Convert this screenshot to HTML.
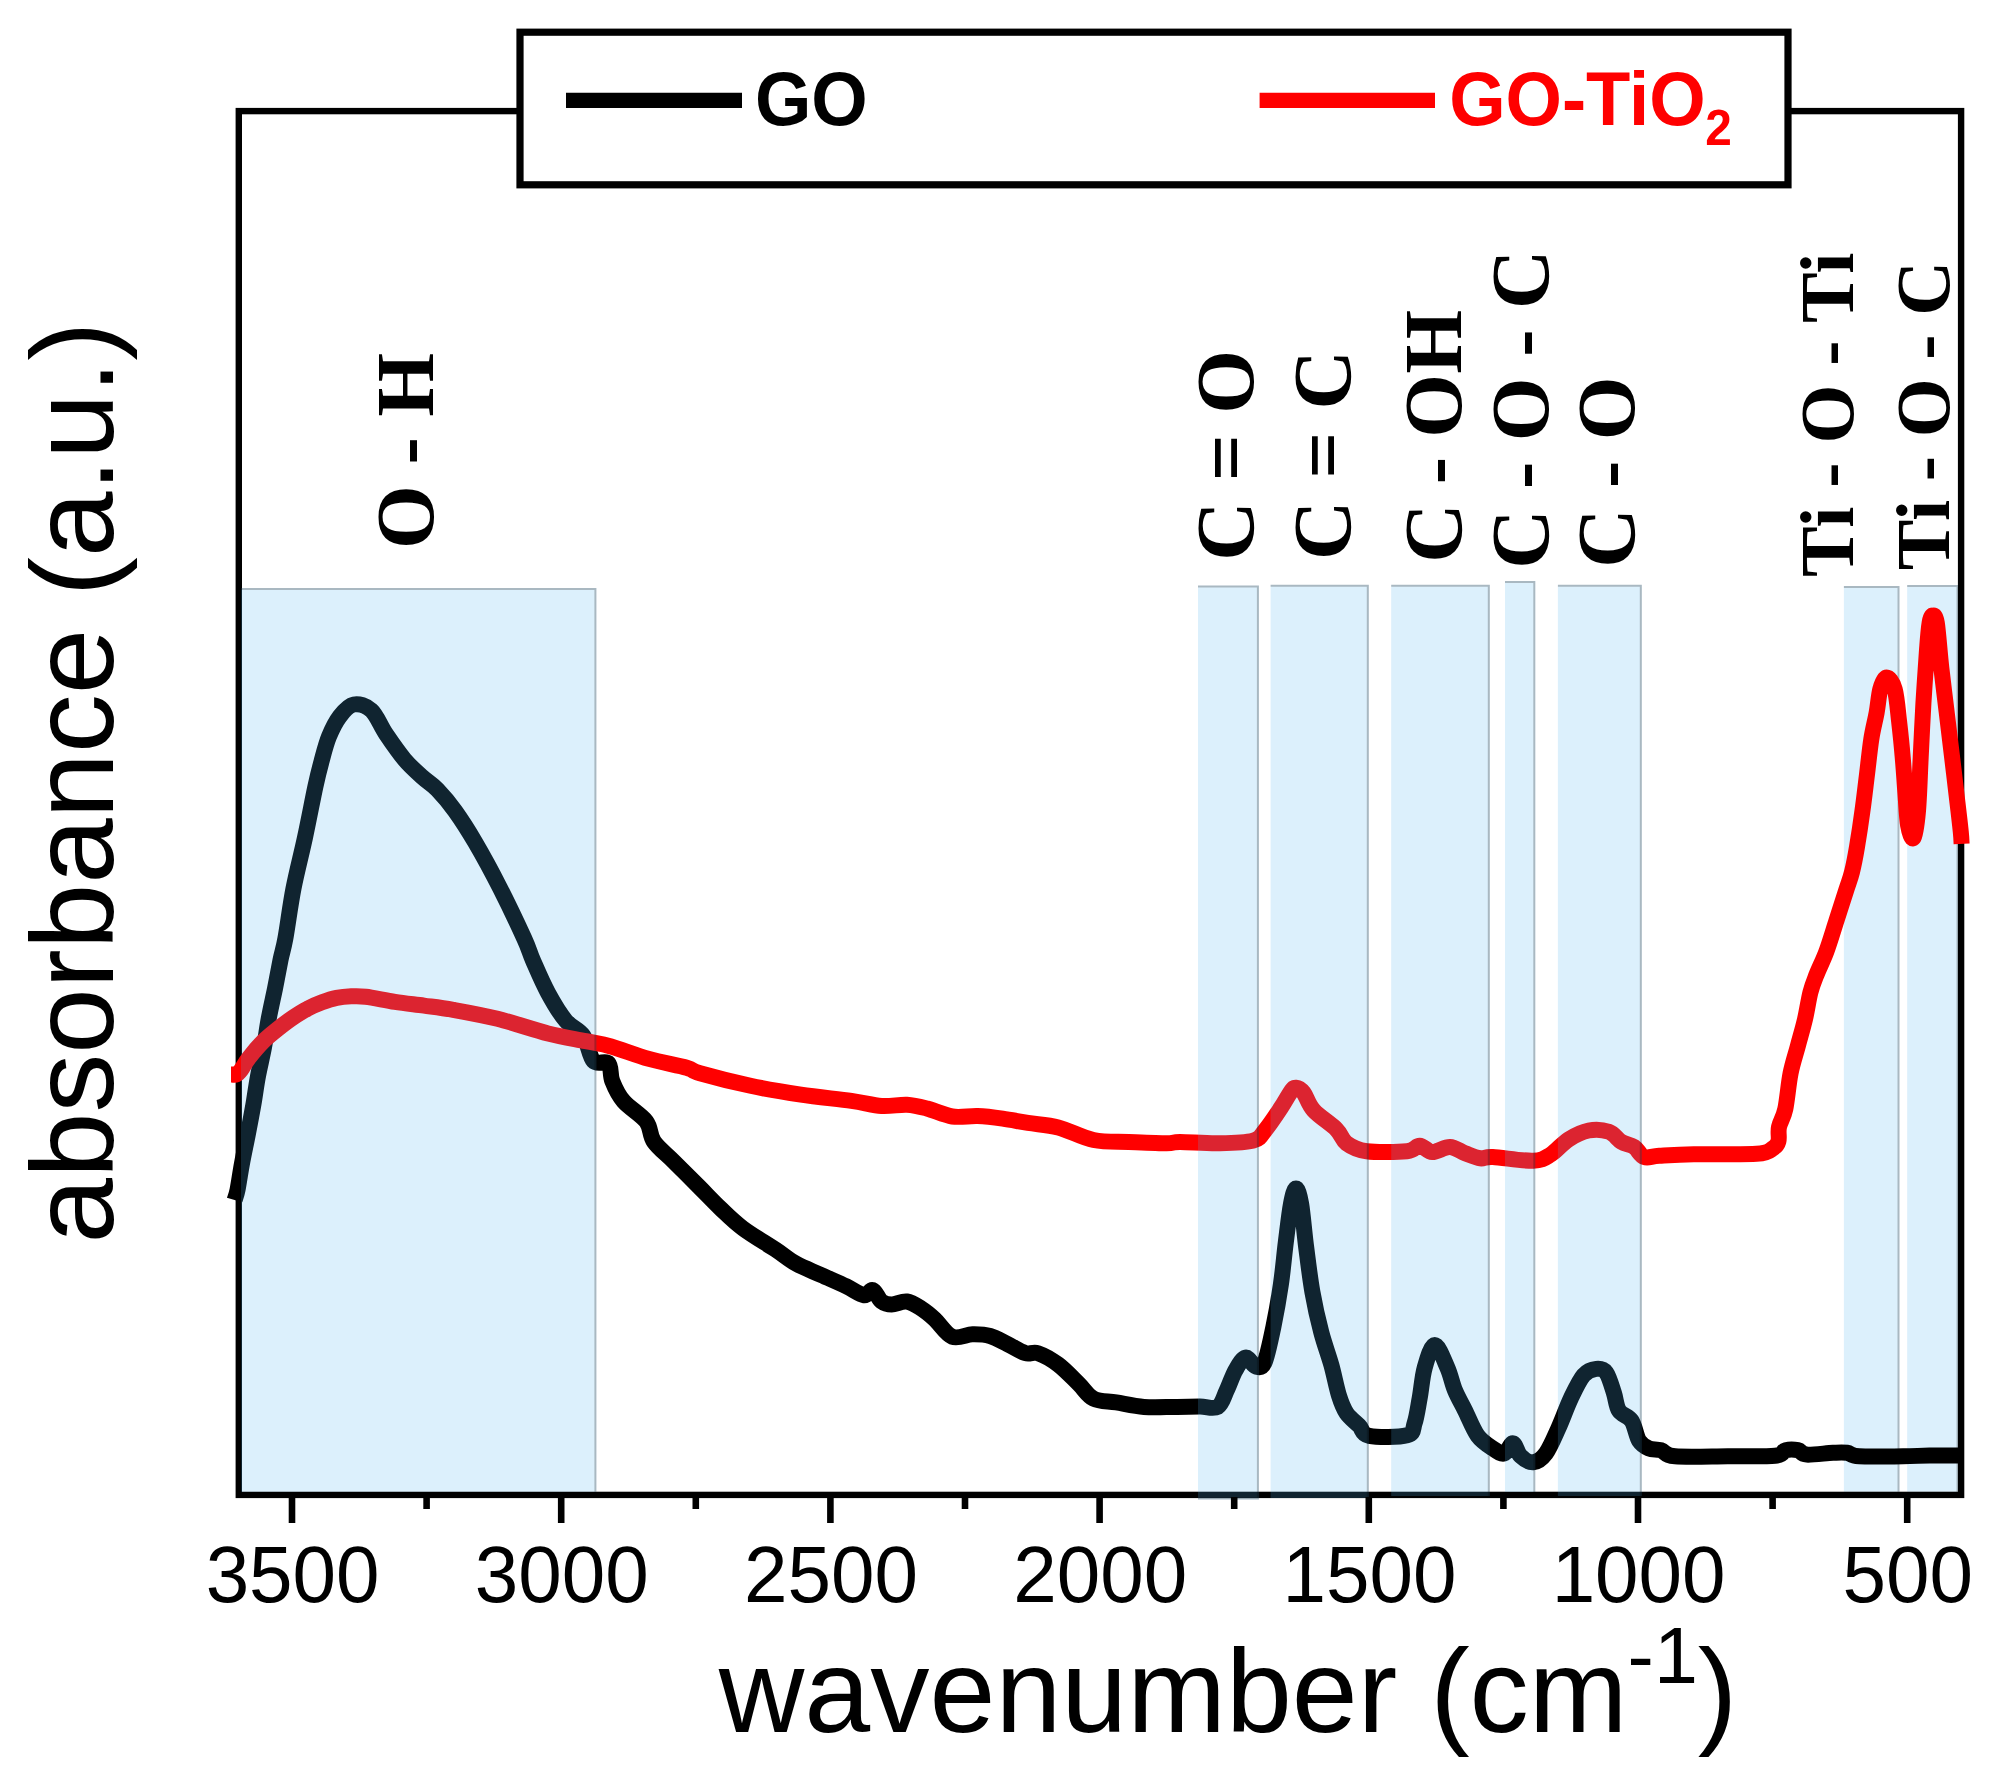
<!DOCTYPE html>
<html><head><meta charset="utf-8"><title>FTIR spectra</title>
<style>html,body{margin:0;padding:0;background:#fff}svg{display:block}text{font-family:"Liberation Sans",sans-serif}.s{font-family:"Liberation Serif",serif;font-weight:bold}</style></head>
<body>
<svg width="1989" height="1784" viewBox="0 0 1989 1784">
<rect width="1989" height="1784" fill="#fff"/>
<rect x="1843.9" y="586.0" width="55.6" height="905.8" fill="rgb(80,180,240)" fill-opacity="0.20"/><path d="M1843.9 587.0H1898.5V1491.8" fill="none" stroke="#000" stroke-opacity="0.23" stroke-width="2"/>
<rect x="1907.2" y="585.0" width="51.3" height="906.8" fill="rgb(80,180,240)" fill-opacity="0.20"/><path d="M1907.2 586.0H1957.5V1491.8" fill="none" stroke="#000" stroke-opacity="0.23" stroke-width="2"/>
<rect x="238.8" y="111.1" width="1722.3" height="1383.8" fill="none" stroke="#000" stroke-width="6.4"/>
<path d="M234.6 1200.0C235.1 1198.3 236.3 1196.0 237.5 1190.0C238.7 1184.0 240.2 1173.2 241.9 1164.0C243.6 1154.8 245.8 1144.6 247.7 1134.9C249.6 1125.2 251.5 1115.4 253.2 1105.7C254.9 1096.0 256.1 1086.3 257.9 1076.6C259.7 1066.9 262.2 1057.1 264.0 1047.4C265.8 1037.7 267.0 1028.0 268.8 1018.3C270.6 1008.6 272.9 998.8 274.9 989.1C276.8 979.4 278.8 968.5 280.5 960.0C282.2 951.5 283.2 950.4 285.4 938.4C287.6 926.4 290.3 904.7 293.6 887.9C296.9 871.1 301.4 854.3 305.0 837.5C308.6 820.7 312.6 799.6 315.3 787.0C318.0 774.4 319.1 770.2 321.4 761.8C323.7 753.4 325.9 744.2 329.0 736.6C332.1 729.0 335.7 721.8 339.8 716.4C343.9 711.0 348.4 705.5 353.7 704.5C359.0 703.5 366.0 705.5 371.4 710.4C376.8 715.3 380.5 725.9 386.0 734.0C391.5 742.1 398.3 752.1 404.4 759.3C410.4 766.5 416.8 772.0 422.3 777.0C427.8 782.0 431.9 783.9 437.4 789.6C442.9 795.3 448.8 802.2 455.1 811.0C461.4 819.8 467.8 829.7 475.3 842.5C482.8 855.3 491.9 872.0 500.0 888.0C508.1 904.0 518.7 926.4 524.2 938.4C529.7 950.4 528.8 950.9 532.8 960.0C536.8 969.1 542.5 982.7 548.0 992.8C553.5 1002.9 559.7 1013.4 565.6 1020.5C571.5 1027.7 578.7 1029.0 583.3 1035.7C587.9 1042.4 589.2 1056.3 593.4 1060.9C597.6 1065.5 605.4 1060.0 608.5 1063.4C611.6 1066.8 609.8 1074.8 612.3 1081.1C614.8 1087.4 617.9 1094.6 623.6 1101.3C629.3 1108.0 641.2 1114.8 646.3 1121.5C651.3 1128.2 649.3 1134.9 653.9 1141.6C658.5 1148.3 666.5 1154.2 674.1 1161.8C681.7 1169.4 691.6 1179.3 699.3 1187.0C707.0 1194.7 712.9 1201.2 720.2 1208.1C727.5 1215.0 733.6 1221.4 742.9 1228.3C752.1 1235.2 766.9 1243.8 775.7 1249.7C784.5 1255.6 788.3 1259.4 795.9 1263.6C803.5 1267.8 812.7 1271.2 821.1 1275.0C829.5 1278.8 839.1 1282.9 846.3 1286.3C853.4 1289.7 859.6 1294.6 864.0 1295.2C868.4 1295.8 869.9 1289.0 872.8 1290.1C875.7 1291.1 878.5 1299.1 881.6 1301.5C884.8 1303.9 887.5 1304.5 891.7 1304.5C895.9 1304.5 901.9 1300.8 906.9 1301.5C911.9 1302.2 917.4 1306.1 922.0 1309.0C926.6 1311.9 929.6 1314.5 934.6 1319.1C939.6 1323.7 946.0 1334.3 952.3 1336.8C958.6 1339.3 966.2 1334.4 972.5 1334.3C978.8 1334.2 984.2 1334.3 990.1 1336.0C996.0 1337.7 1001.9 1341.4 1007.8 1344.3C1013.7 1347.2 1020.4 1351.7 1025.4 1353.2C1030.4 1354.7 1032.5 1351.3 1038.0 1353.2C1043.5 1355.1 1051.5 1359.5 1058.2 1364.5C1064.9 1369.5 1072.5 1377.8 1078.4 1383.5C1084.3 1389.2 1087.2 1395.4 1093.5 1398.6C1099.8 1401.8 1107.8 1401.0 1116.2 1402.4C1124.6 1403.8 1134.3 1406.2 1144.0 1406.9C1153.7 1407.7 1165.0 1407.0 1174.3 1406.9C1183.6 1406.9 1192.8 1406.6 1200.0 1406.6C1207.2 1406.6 1213.3 1409.5 1217.8 1406.8C1222.2 1404.1 1223.8 1396.5 1226.7 1390.4C1229.7 1384.3 1232.3 1375.7 1235.5 1370.2C1238.7 1364.7 1242.2 1358.2 1245.6 1357.6C1249.0 1357.0 1252.5 1365.6 1255.7 1366.4C1258.9 1367.2 1261.6 1369.1 1264.5 1362.6C1267.4 1356.1 1270.6 1340.3 1273.3 1327.3C1276.0 1314.3 1278.8 1298.7 1280.9 1284.4C1283.0 1270.1 1284.2 1255.0 1285.9 1241.5C1287.6 1228.0 1289.3 1212.5 1291.0 1203.7C1292.7 1194.9 1294.3 1188.6 1296.0 1188.6C1297.7 1188.6 1299.4 1194.0 1301.1 1203.7C1302.8 1213.4 1304.2 1231.9 1306.1 1246.6C1308.0 1261.3 1309.9 1277.7 1312.4 1292.0C1314.9 1306.3 1318.1 1320.2 1321.3 1332.4C1324.5 1344.6 1328.5 1354.7 1331.4 1365.2C1334.3 1375.7 1336.4 1387.4 1338.9 1395.4C1341.4 1403.4 1343.1 1408.0 1346.5 1413.1C1349.9 1418.1 1355.3 1421.9 1359.1 1425.7C1362.9 1429.5 1361.2 1434.2 1369.2 1435.8C1377.2 1437.4 1399.4 1437.4 1407.0 1435.3C1414.6 1433.2 1412.5 1429.4 1414.6 1423.2C1416.7 1417.0 1418.0 1407.2 1419.7 1398.0C1421.4 1388.8 1422.2 1376.5 1424.7 1367.7C1427.2 1358.9 1431.0 1345.0 1434.8 1345.0C1438.6 1345.0 1444.0 1360.1 1447.4 1367.7C1450.8 1375.3 1452.0 1383.2 1455.0 1390.4C1458.0 1397.6 1461.3 1403.0 1465.1 1410.6C1468.9 1418.2 1473.1 1429.5 1477.7 1435.8C1482.3 1442.1 1488.4 1445.5 1492.8 1448.4C1497.2 1451.4 1500.8 1454.3 1504.2 1453.5C1507.6 1452.7 1510.3 1443.0 1513.0 1443.4C1515.7 1443.8 1517.2 1452.8 1520.6 1456.0C1524.0 1459.2 1529.0 1462.7 1533.2 1462.3C1537.4 1461.9 1541.6 1459.2 1545.8 1453.5C1550.0 1447.8 1554.2 1437.5 1558.4 1428.2C1562.6 1419.0 1566.8 1406.8 1571.0 1398.0C1575.2 1389.2 1579.4 1380.0 1583.6 1375.2C1587.8 1370.4 1592.4 1369.3 1596.2 1368.9C1600.0 1368.5 1603.3 1368.7 1606.3 1372.7C1609.2 1376.7 1611.8 1386.6 1613.9 1392.9C1616.0 1399.2 1616.0 1406.0 1619.0 1410.6C1622.0 1415.2 1628.2 1415.7 1631.6 1420.7C1634.9 1425.7 1636.2 1436.2 1639.1 1440.8C1642.0 1445.4 1645.1 1446.8 1648.8 1448.4C1652.5 1450.0 1656.6 1448.9 1661.0 1450.2C1665.4 1451.5 1664.0 1455.3 1675.1 1456.3C1686.2 1457.3 1711.0 1456.4 1727.7 1456.3C1744.4 1456.2 1765.4 1456.8 1775.1 1455.8C1784.8 1454.8 1781.8 1451.1 1785.6 1450.2C1789.4 1449.3 1794.4 1449.5 1797.9 1450.2C1801.4 1450.9 1800.9 1454.2 1806.7 1454.6C1812.5 1455.0 1826.3 1453.1 1833.0 1452.8C1839.7 1452.5 1842.6 1452.2 1847.0 1452.8C1851.4 1453.4 1849.9 1455.7 1859.3 1456.3C1868.7 1456.9 1891.5 1456.4 1903.2 1456.3C1914.9 1456.2 1919.9 1455.6 1929.5 1455.5C1939.1 1455.4 1955.8 1455.5 1961.0 1455.5" fill="none" stroke="#000" stroke-width="16" stroke-linejoin="round"/>
<path d="M231.0 1074.4C231.9 1074.4 234.8 1075.1 236.5 1074.4C238.2 1073.7 238.9 1072.8 241.0 1070.0C243.1 1067.2 245.3 1062.4 249.1 1057.6C252.9 1052.8 258.8 1045.8 263.7 1040.9C268.6 1036.1 273.4 1032.4 278.3 1028.5C283.2 1024.6 288.0 1020.9 292.9 1017.6C297.8 1014.3 302.5 1011.3 307.4 1008.8C312.2 1006.2 317.1 1004.1 322.0 1002.3C326.9 1000.5 331.7 998.9 336.6 997.9C341.5 996.9 346.4 996.5 351.2 996.3C356.0 996.1 358.4 995.8 365.7 996.7C373.0 997.6 385.2 1000.3 394.9 1001.8C404.6 1003.3 414.3 1004.3 424.0 1005.6C433.7 1006.9 440.9 1007.6 453.2 1009.8C465.4 1012.0 481.7 1014.9 497.5 1018.8C513.3 1022.7 533.3 1029.7 548.0 1033.4C562.7 1037.1 575.3 1039.0 585.8 1041.2C596.3 1043.4 600.5 1043.5 611.0 1046.5C621.5 1049.5 636.3 1055.4 648.9 1058.9C661.5 1062.4 678.2 1065.3 686.7 1067.7C695.2 1070.1 689.4 1070.2 700.0 1073.2C710.6 1076.2 733.7 1082.2 750.5 1085.8C767.3 1089.4 784.1 1092.1 800.9 1094.6C817.7 1097.1 837.9 1099.0 851.4 1100.9C864.9 1102.8 872.4 1105.4 881.6 1106.0C890.9 1106.6 899.3 1104.3 906.9 1104.7C914.5 1105.1 919.4 1106.5 927.0 1108.5C934.6 1110.5 943.9 1115.2 952.3 1116.5C960.7 1117.8 969.1 1115.7 977.5 1116.0C985.9 1116.3 994.3 1117.4 1002.7 1118.6C1011.1 1119.8 1018.7 1121.4 1027.9 1122.9C1037.2 1124.4 1047.3 1124.6 1058.2 1127.4C1069.1 1130.2 1081.7 1137.6 1093.5 1140.0C1105.3 1142.4 1116.7 1141.5 1128.9 1142.0C1141.1 1142.5 1158.2 1143.3 1166.7 1143.3C1175.2 1143.3 1171.5 1141.9 1180.0 1141.9C1188.5 1141.9 1205.6 1143.4 1217.8 1143.2C1230.0 1143.0 1245.2 1142.9 1253.2 1140.6C1261.2 1138.3 1261.2 1134.8 1265.8 1129.3C1270.4 1123.8 1276.7 1114.1 1280.9 1107.8C1285.1 1101.5 1288.5 1094.8 1291.0 1091.4C1293.5 1088.1 1293.9 1087.5 1296.0 1087.7C1298.1 1087.9 1300.6 1088.9 1303.6 1092.7C1306.5 1096.5 1308.2 1104.3 1313.7 1110.4C1319.2 1116.5 1330.9 1123.8 1336.4 1129.3C1341.9 1134.8 1341.5 1139.5 1346.5 1143.2C1351.5 1146.9 1356.6 1149.9 1366.7 1151.2C1376.8 1152.5 1398.2 1152.1 1407.0 1151.2C1415.8 1150.3 1415.5 1145.6 1419.7 1145.7C1423.9 1145.8 1427.3 1151.8 1432.3 1152.0C1437.3 1152.2 1444.4 1146.7 1449.9 1146.9C1455.4 1147.1 1460.0 1151.3 1465.1 1153.2C1470.1 1155.1 1475.6 1157.7 1480.2 1158.3C1484.8 1158.9 1484.0 1156.6 1492.8 1157.0C1501.6 1157.4 1523.5 1161.2 1533.2 1160.8C1542.9 1160.4 1544.9 1158.1 1550.8 1154.5C1556.7 1150.9 1562.2 1143.4 1568.5 1139.4C1574.8 1135.4 1582.0 1131.8 1588.7 1130.5C1595.4 1129.2 1603.4 1129.9 1608.9 1131.8C1614.4 1133.7 1617.3 1139.4 1621.5 1141.9C1625.7 1144.4 1630.3 1144.4 1634.1 1146.9C1637.9 1149.4 1640.0 1155.5 1644.2 1157.0C1648.4 1158.5 1651.0 1156.3 1659.3 1155.8C1667.6 1155.3 1677.6 1154.5 1693.8 1154.2C1710.0 1153.9 1743.4 1154.8 1756.6 1153.8C1769.8 1152.8 1769.1 1150.6 1772.7 1148.5C1776.3 1146.4 1777.4 1144.9 1778.4 1141.3C1779.5 1137.7 1777.8 1132.3 1779.0 1126.9C1780.2 1121.5 1783.4 1118.0 1785.3 1109.0C1787.2 1100.0 1788.5 1083.6 1790.6 1073.1C1792.7 1062.6 1795.4 1055.2 1797.8 1046.2C1800.2 1037.2 1802.9 1028.3 1805.0 1019.3C1807.1 1010.3 1808.5 999.9 1810.4 992.4C1812.3 984.9 1813.9 981.4 1816.6 974.5C1819.3 967.6 1823.2 960.2 1826.5 951.2C1829.8 942.2 1833.1 930.9 1836.4 920.7C1839.7 910.5 1843.6 898.3 1846.2 890.2C1848.8 882.1 1850.2 879.2 1852.0 872.0C1853.8 864.8 1855.3 857.0 1857.0 846.9C1858.7 836.8 1860.8 823.0 1862.4 811.1C1864.1 799.2 1865.4 787.2 1866.9 775.2C1868.4 763.2 1869.7 749.8 1871.3 739.3C1872.9 728.8 1875.2 720.8 1876.7 712.4C1878.2 704.0 1878.7 694.9 1880.3 689.1C1881.9 683.3 1884.2 677.5 1886.6 677.5C1889.0 677.5 1892.6 681.8 1894.7 689.1C1896.8 696.4 1897.8 710.0 1899.1 721.4C1900.4 732.8 1901.7 745.3 1902.7 757.3C1903.8 769.2 1904.5 781.8 1905.4 793.1C1906.3 804.5 1906.8 817.9 1908.1 825.4C1909.4 832.9 1911.8 840.4 1913.5 838.0C1915.2 835.6 1916.8 824.6 1918.0 811.1C1919.2 797.6 1919.8 775.2 1920.7 757.3C1921.6 739.4 1922.4 721.4 1923.4 703.5C1924.5 685.6 1926.0 663.2 1927.0 649.7C1928.0 636.2 1928.6 628.5 1929.6 622.8C1930.5 617.1 1931.5 615.6 1932.7 615.6C1933.9 615.6 1935.4 614.1 1936.8 622.8C1938.2 631.5 1939.6 652.7 1941.3 667.6C1943.0 682.5 1944.9 697.5 1946.7 712.4C1948.5 727.3 1950.3 742.3 1952.1 757.3C1953.9 772.2 1956.0 789.6 1957.4 802.1C1958.9 814.6 1960.1 825.0 1960.8 832.0C1961.5 839.0 1961.5 841.9 1961.6 843.9" fill="none" stroke="#f00" stroke-width="16" stroke-linejoin="round"/>
<rect x="241.0" y="588.0" width="355.4" height="903.8" fill="rgb(80,180,240)" fill-opacity="0.20"/><path d="M241.0 589.0H595.4V1491.8" fill="none" stroke="#000" stroke-opacity="0.23" stroke-width="2"/>
<rect x="1198.0" y="585.5" width="60.9" height="914.1" fill="rgb(80,180,240)" fill-opacity="0.20"/><path d="M1198.0 586.5H1257.9V1498.6H1198.0" fill="none" stroke="#000" stroke-opacity="0.23" stroke-width="2"/>
<rect x="1270.6" y="584.8" width="98.2" height="913.2" fill="rgb(80,180,240)" fill-opacity="0.20"/><path d="M1270.6 585.8H1367.8V1498.0" fill="none" stroke="#000" stroke-opacity="0.23" stroke-width="2"/>
<rect x="1391.2" y="584.8" width="98.6" height="911.2" fill="rgb(80,180,240)" fill-opacity="0.20"/><path d="M1391.2 585.8H1488.8V1496.0" fill="none" stroke="#000" stroke-opacity="0.23" stroke-width="2"/>
<rect x="1505.0" y="581.0" width="30.3" height="911.0" fill="rgb(80,180,240)" fill-opacity="0.20"/><path d="M1505.0 582.0H1534.3V1492.0" fill="none" stroke="#000" stroke-opacity="0.23" stroke-width="2"/>
<rect x="1557.9" y="584.8" width="83.9" height="911.2" fill="rgb(80,180,240)" fill-opacity="0.20"/><path d="M1557.9 585.8H1640.8V1496.0" fill="none" stroke="#000" stroke-opacity="0.23" stroke-width="2"/>
<path d="M292.0 1497V1523" stroke="#000" stroke-width="6.6"/>
<text transform="translate(292.6,1602.4) scale(1,1.02)" font-size="78.2" text-anchor="middle">3500</text>
<path d="M561.2 1497V1523" stroke="#000" stroke-width="6.6"/>
<text transform="translate(561.8,1602.4) scale(1,1.02)" font-size="78.2" text-anchor="middle">3000</text>
<path d="M830.4 1497V1523" stroke="#000" stroke-width="6.6"/>
<text transform="translate(831.0,1602.4) scale(1,1.02)" font-size="78.2" text-anchor="middle">2500</text>
<path d="M1099.6 1497V1523" stroke="#000" stroke-width="6.6"/>
<text transform="translate(1100.2,1602.4) scale(1,1.02)" font-size="78.2" text-anchor="middle">2000</text>
<path d="M1368.8 1497V1523" stroke="#000" stroke-width="6.6"/>
<text transform="translate(1369.4,1602.4) scale(1,1.02)" font-size="78.2" text-anchor="middle">1500</text>
<path d="M1638.0 1497V1523" stroke="#000" stroke-width="6.6"/>
<text transform="translate(1638.6,1602.4) scale(1,1.02)" font-size="78.2" text-anchor="middle">1000</text>
<path d="M1907.2 1497V1523" stroke="#000" stroke-width="6.6"/>
<text transform="translate(1907.8,1602.4) scale(1,1.02)" font-size="78.2" text-anchor="middle">500</text>
<path d="M426.6 1497V1509" stroke="#000" stroke-width="6.6"/>
<path d="M695.8 1497V1509" stroke="#000" stroke-width="6.6"/>
<path d="M965.0 1497V1509" stroke="#000" stroke-width="6.6"/>
<path d="M1234.2 1497V1509" stroke="#000" stroke-width="6.6"/>
<path d="M1503.4 1497V1509" stroke="#000" stroke-width="6.6"/>
<path d="M1772.6 1497V1509" stroke="#000" stroke-width="6.6"/>
<path d="M2041.8 1497V1509" stroke="#000" stroke-width="6.6"/>
<rect x="520" y="32.2" width="1268" height="152.6" fill="#fff" stroke="#000" stroke-width="7.2"/>
<path d="M566 100.4H742" stroke="#000" stroke-width="15.2"/>
<path d="M1259.6 100.4H1435" stroke="#f00" stroke-width="15.2"/>
<text transform="translate(754.9,125.2) scale(1,1.058)" font-size="72.5" font-weight="bold">GO</text>
<text transform="translate(1449.2,125.2) scale(1,1.058)" font-size="72.5" font-weight="bold" fill="#f00">GO-TiO<tspan font-size="47.8" dy="18.6" dx="-0.4">2</tspan></text>
<text x="718.8" y="1732" font-size="118.5">wavenumber (cm<tspan font-size="79" dy="-49">-1</tspan><tspan dy="49">)</tspan></text>
<text transform="translate(113,1243.4) rotate(-90)" font-size="117.6">absorbance (a.u.)</text>
<text class="s" transform="translate(433.1,549.0) rotate(-90)" font-size="82.1">O - H</text>
<text class="s" transform="translate(1253.0,560.8) rotate(-90)" font-size="82.1">C = O</text>
<text class="s" transform="translate(1350.0,560.0) rotate(-90)" font-size="82.1" word-spacing="1.7">C = C</text>
<text class="s" transform="translate(1460.5,562.8) rotate(-90)" font-size="82.1" word-spacing="-1.3">C - OH</text>
<text class="s" transform="translate(1547.7,568.8) rotate(-90)" font-size="82.1">C - O - C</text>
<text class="s" transform="translate(1634.0,567.8) rotate(-90)" font-size="82.1">C - O</text>
<text class="s" transform="translate(1853.3,577.0) rotate(-90)" font-size="75.8">Ti - O - Ti</text>
<text class="s" transform="translate(1948.8,570.2) rotate(-90)" font-size="75.8" word-spacing="-0.25">Ti - O - C</text>
</svg></body></html>
